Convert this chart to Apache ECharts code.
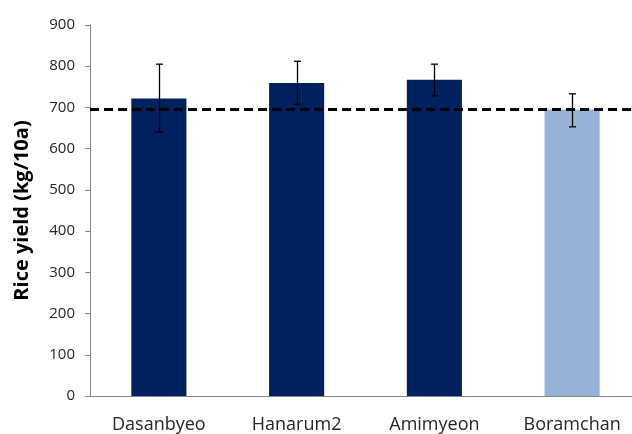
<!DOCTYPE html>
<html>
<head>
<meta charset="utf-8">
<script src="https://cdn.jsdelivr.net/npm/echarts@6/dist/echarts.min.js"></script>
<style>
  html, body { margin: 0; padding: 0; background: #fff; }
  #myChart { width: 632px; height: 434px; }
</style>
</head>
<body>
<div id="myChart"></div>
<script>
  // data
  var varieties = ['Dasanbyeo', 'Hanarum2', 'Amimyeon', 'Boramchan'];
  var yieldMean = [722, 759, 767, 695];
  var errLow = [640, 708, 728, 653];
  var errHigh = [805, 812, 805, 733];
  var refLine = 695;
  var yTicks = [0, 100, 200, 300, 400, 500, 600, 700, 800, 900];

  var barColors = ['#002060', '#002060', '#002060', '#95B3D7'];
  var font = '"Open Sans", "Liberation Sans", sans-serif';

  var myChart = echarts.init(document.getElementById('myChart'));
  myChart.setOption({
    animation: false,
    // the original plot runs past the right edge of the picture
    grid: { left: 90, width: 551, top: 25, bottom: 38, outerBoundsMode: 'none', containLabel: false },
    xAxis: {
      type: 'category',
      data: varieties,
      axisLine: { lineStyle: { color: '#868686', width: 1 } },
      axisTick: { length: 6, lineStyle: { color: '#868686' } },
      axisLabel: { margin: 20, fontSize: 18, color: '#262626', fontFamily: font }
    },
    yAxis: {
      type: 'value',
      min: yTicks[0],
      max: yTicks[yTicks.length - 1],
      interval: 100,
      name: 'Rice yield (kg/10a)',
      nameLocation: 'middle',
      nameGap: 58,
      nameTextStyle: { fontSize: 20, fontWeight: 'bold', color: '#000', fontFamily: font },
      axisLine: { show: true, lineStyle: { color: '#868686', width: 1 } },
      axisTick: { show: true, length: 5, lineStyle: { color: '#868686' } },
      axisLabel: { margin: 15, fontSize: 15, color: '#262626', fontFamily: font },
      splitLine: { show: false }
    },
    series: [
      {
        type: 'bar',
        barWidth: '40%',
        data: yieldMean.map(function (v, i) {
          return { value: v, itemStyle: { color: barColors[i] } };
        }),
        markLine: {
          silent: true,
          symbol: 'none',
          label: { show: false },
          lineStyle: { color: '#000', type: [9, 5], width: 3 },
          data: [{ yAxis: refLine }]
        },
        z: 2
      },
      {
        type: 'custom',
        z: 5,
        data: varieties.map(function (c, i) { return [i, errLow[i], errHigh[i]]; }),
        renderItem: function (params, api) {
          var lo = api.coord([api.value(0), api.value(1)]);
          var hi = api.coord([api.value(0), api.value(2)]);
          var x = Math.round(lo[0]) + 0.5;
          var cap = 3.5;
          var st = { stroke: '#000', lineWidth: 1.3 };
          return {
            type: 'group',
            children: [
              { type: 'line', shape: { x1: x, y1: hi[1], x2: x, y2: lo[1] }, style: st },
              { type: 'line', shape: { x1: x - cap, y1: hi[1], x2: x + cap, y2: hi[1] }, style: st },
              { type: 'line', shape: { x1: x - cap, y1: lo[1], x2: x + cap, y2: lo[1] }, style: st }
            ]
          };
        }
      }
    ]
  });
</script>
</body>
</html>
